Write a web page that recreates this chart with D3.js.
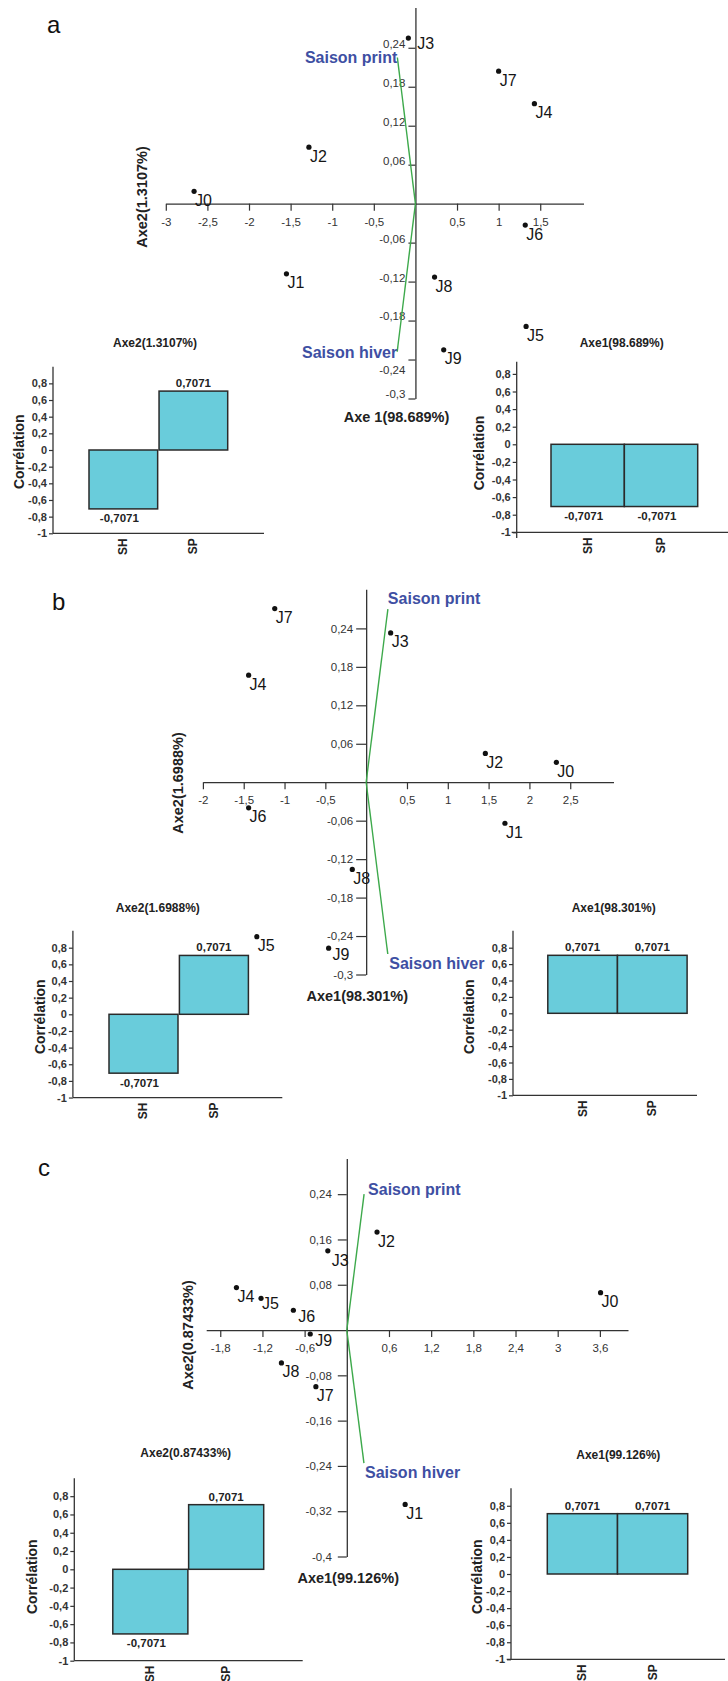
<!DOCTYPE html>
<html><head><meta charset="utf-8">
<script src="https://cdn.jsdelivr.net/npm/d3@7"></script>
<style>
html,body{margin:0;padding:0;background:#fff;}
svg{display:block;font-family:"Liberation Sans", Arial, sans-serif;}
</style></head><body>
<svg id="fig" width="728" height="1681"></svg>
<script>
// ---------------- DATA ----------------
const days = ["J0","J1","J2","J3","J4","J5","J6","J7","J8","J9"];

// panel a
const axe1A = [-2.66, -1.55, -1.28, -0.085, 1.43, 1.33, 1.32, 1.00, 0.23, 0.34];
const axe2A = [0.019, -0.108, 0.087, 0.255, 0.154, -0.189, -0.033, 0.204, -0.113, -0.225];
// panel b
const axe1B = [2.33, 1.70, 1.46, 0.30, -1.44, -1.34, -1.44, -1.12, -0.17, -0.46];
const axe2B = [0.031, -0.064, 0.045, 0.233, 0.167, -0.241, -0.040, 0.271, -0.136, -0.259];
// panel c
const axe1C = [3.61, 0.83, 0.43, -0.27, -1.57, -1.22, -0.76, -0.44, -0.93, -0.52];
const axe2C = [0.066, -0.308, 0.173, 0.140, 0.075, 0.056, 0.035, -0.100, -0.058, -0.007];

// season vectors
const vectorNames = ["Saison print", "Saison hiver"];
const vecAxe1A = [-0.217, -0.219];
const vecAxe2A = [0.225, -0.228];
const vecAxe1B = [0.266, 0.265];
const vecAxe2B = [0.270, -0.268];
const vecAxe1C = [0.246, 0.244];
const vecAxe2C = [0.240, -0.235];

// tick labels
const xTicksA = [-3, -2.5, -2, -1.5, -1, -0.5, 0.5, 1, 1.5];
const yTicksA = [-0.3, -0.24, -0.18, -0.12, -0.06, 0.06, 0.12, 0.18, 0.24];
const xTicksB = [-2, -1.5, -1, -0.5, 0.5, 1, 1.5, 2, 2.5];
const yTicksB = [-0.3, -0.24, -0.18, -0.12, -0.06, 0.06, 0.12, 0.18, 0.24];
const xTicksC = [-1.8, -1.2, -0.6, 0.6, 1.2, 1.8, 2.4, 3, 3.6];
const yTicksC = [-0.4, -0.32, -0.24, -0.16, -0.08, 0.08, 0.16, 0.24];
const corrTicks = [-1, -0.8, -0.6, -0.4, -0.2, 0, 0.2, 0.4, 0.6, 0.8];

// correlation bars
const seasons = ["SH", "SP"];
const corrAxe2A = [-0.7071, 0.7071];
const corrAxe1A = [-0.7071, -0.7071];
const corrAxe2B = [-0.7071, 0.7071];
const corrAxe1B = [0.7071, 0.7071];
const corrAxe2C = [-0.7071, 0.7071];
const corrAxe1C = [0.7071, 0.7071];

// ---------------- DRAWING ----------------
const svg = d3.select("#fig");
const loc = d3.formatLocale({decimal: ",", thousands: " ", grouping: [3], currency: ["", ""], minus: "-"});
const fmt = loc.format("~g");
const FONT = '"Liberation Sans", Arial, sans-serif';
const AXIS = "#333";
const GREEN = "#3da94b";
const BLUE = "#3e4fa3";
const BAR = "#69ccdb";

function styleAxis(g, size, weight, color) {
  g.attr("font-family", FONT);
  g.select(".domain").attr("stroke", AXIS).attr("stroke-width", 1.3);
  g.selectAll(".tick line").attr("stroke", AXIS).attr("stroke-width", 1.2);
  g.selectAll(".tick text").attr("font-size", size).attr("font-weight", weight).attr("fill", color);
}

function scatter(cfg) {
  const x = d3.scaleLinear().domain(cfg.xDomain).range(cfg.xRange);
  const y = d3.scaleLinear().domain(cfg.yDomain).range(cfg.yRange);
  const g = svg.append("g");

  g.append("text").attr("x", cfg.letter[0]).attr("y", cfg.letter[1])
    .attr("font-size", 24).attr("fill", "#111").text(cfg.letterText);

  const xa = g.append("g").attr("transform", `translate(0,${y(0)})`)
    .call(d3.axisBottom(x).tickValues(cfg.xTicks).tickFormat(fmt).tickSize(7).tickSizeOuter(0).tickPadding(7));
  styleAxis(xa, 11.5, "normal", "#333");

  const ya = g.append("g").attr("transform", `translate(${x(0)},0)`)
    .call(d3.axisLeft(y).tickValues(cfg.yTicks).tickFormat(fmt).tickSize(cfg.yTickSize).tickSizeOuter(0).tickPadding(cfg.yTickPad));
  styleAxis(ya, 11.5, "normal", "#333");
  ya.selectAll(".tick text").attr("dy", cfg.yLabelDy);

  const vec = vectorNames.map((n, i) => ({name: n, a1: cfg.vec1[i], a2: cfg.vec2[i], lab: cfg.vecLab[i]}));
  g.selectAll("line.vec").data(vec).join("line").attr("class", "vec")
    .attr("x1", x(0)).attr("y1", y(0))
    .attr("x2", d => x(d.a1)).attr("y2", d => y(d.a2))
    .attr("stroke", GREEN).attr("stroke-width", 1.4);
  g.selectAll("text.vec").data(vec).join("text").attr("class", "vec")
    .attr("x", d => x(d.a1) + d.lab.dx).attr("y", d => y(d.a2) + d.lab.dy)
    .attr("text-anchor", d => d.lab.anchor)
    .attr("font-size", 16).attr("font-weight", "bold").attr("fill", BLUE)
    .text(d => d.name);

  const pts = days.map((n, i) => ({name: n, a1: cfg.p1[i], a2: cfg.p2[i]}));
  g.selectAll("circle.pt").data(pts).join("circle").attr("class", "pt")
    .attr("cx", d => x(d.a1)).attr("cy", d => y(d.a2)).attr("r", 2.6).attr("fill", "#111");
  g.selectAll("text.pt").data(pts).join("text").attr("class", "pt")
    .attr("x", d => x(d.a1) + ((cfg.nudge[d.name] || {}).dx ?? 1))
    .attr("y", d => y(d.a2) + ((cfg.nudge[d.name] || {}).dy ?? 14.5))
    .attr("font-size", 16).attr("fill", "#151515").text(d => d.name);

  g.append("text").attr("transform", `translate(${cfg.yTitle[0]},${cfg.yTitle[1]}) rotate(-90)`)
    .attr("text-anchor", "middle").attr("dominant-baseline", "central")
    .attr("font-size", 14.5).attr("font-weight", "bold").attr("fill", "#222").text(cfg.yTitleText);
  g.append("text").attr("x", cfg.xTitle[0]).attr("y", cfg.xTitle[1])
    .attr("text-anchor", "middle").attr("dominant-baseline", "central")
    .attr("font-size", 14.5).attr("font-weight", "bold").attr("fill", "#222").text(cfg.xTitleText);
}

function bars(cfg) {
  const y = d3.scaleLinear().domain([-1, 1]).range([cfg.yZero + cfg.unit, cfg.yZero - cfg.unit]);
  const x = d3.scaleBand().domain(seasons).range(cfg.barRange).paddingInner(cfg.pad).paddingOuter(0);
  const g = svg.append("g");
  const dat = seasons.map((s, i) => ({s, v: cfg.values[i]}));

  g.selectAll("rect").data(dat).join("rect")
    .attr("x", d => x(d.s)).attr("width", x.bandwidth())
    .attr("y", d => Math.min(y(d.v), y(0))).attr("height", d => Math.abs(y(d.v) - y(0)))
    .attr("fill", BAR).attr("stroke", "#2a2a2a").attr("stroke-width", 1.5);

  const ya = g.append("g").attr("transform", `translate(${cfg.x0},0)`)
    .call(d3.axisLeft(y).tickValues(corrTicks).tickFormat(fmt).tickSize(4).tickPadding(2).tickSizeOuter(0));
  styleAxis(ya, 11, "bold", "#333");
  ya.select(".domain").remove();
  g.append("line").attr("x1", cfg.x0).attr("x2", cfg.x0)
    .attr("y1", cfg.axisTop).attr("y2", y(-1) + cfg.ext)
    .attr("stroke", AXIS).attr("stroke-width", 1.3);
  g.append("line").attr("x1", cfg.xStart).attr("x2", cfg.xEnd)
    .attr("y1", y(-1)).attr("y2", y(-1))
    .attr("stroke", AXIS).attr("stroke-width", 1.3);

  g.selectAll("text.cat").data(seasons).join("text").attr("class", "cat")
    .attr("transform", s => `translate(${x(s) + x.bandwidth() / 2},${y(-1) + 5}) rotate(-90)`)
    .attr("text-anchor", "end").attr("dominant-baseline", "central")
    .attr("font-size", 12).attr("font-weight", "bold").attr("fill", "#222").text(s => s);

  g.selectAll("text.val").data(dat).join("text").attr("class", "val")
    .attr("x", d => x(d.s) + x.bandwidth() / 2 + (d.v < 0 ? -4 : 0))
    .attr("y", d => d.v >= 0 ? y(d.v) - 4 : y(d.v) + 13.5)
    .attr("text-anchor", "middle")
    .attr("font-size", 11.5).attr("font-weight", "bold").attr("fill", "#222").text(d => fmt(d.v));

  g.append("text").attr("x", cfg.title[0]).attr("y", cfg.title[1])
    .attr("text-anchor", "middle").attr("dominant-baseline", "central")
    .attr("font-size", 12).attr("font-weight", "bold").attr("fill", "#222").text(cfg.titleText);
  g.append("text").attr("transform", `translate(${cfg.corr[0]},${cfg.corr[1]}) rotate(-90)`)
    .attr("text-anchor", "middle").attr("dominant-baseline", "central")
    .attr("font-size", 14).attr("font-weight", "bold").attr("fill", "#222").text("Corrélation");
}

// ----- panel a -----
scatter({
  letterText: "a", letter: [47, 33],
  xDomain: [-3, 2.02], xRange: [165.8, 583.5],
  yDomain: [-0.3, 0.302], yRange: [398.5, 7.5],
  xTicks: xTicksA, yTicks: yTicksA, yTickSize: 7, yTickPad: 3,
  yLabelDy: d => (d === -0.24 ? "1.2em" : "-0.05em"),
  p1: axe1A, p2: axe2A, vec1: vecAxe1A, vec2: vecAxe2A,
  vecLab: [{anchor: "end", dx: 0, dy: 5.5}, {anchor: "end", dx: 0, dy: 6}],
  nudge: {J3: {dx: 9, dy: 11}},
  yTitleText: "Axe2(1.3107%)", yTitle: [141.6, 197],
  xTitleText: "Axe 1(98.689%)", xTitle: [396.5, 416.7]
});
bars({values: corrAxe2A, titleText: "Axe2(1.3107%)", title: [155, 343], corr: [18.5, 451.7],
  x0: 53, yZero: 450, unit: 83.3, axisTop: 366.7, ext: 0, xStart: 53, xEnd: 264,
  barRange: [89, 227.7], pad: 0.02});
bars({values: corrAxe1A, titleText: "Axe1(98.689%)", title: [621.7, 343], corr: [479.3, 453],
  x0: 516.7, yZero: 444.3, unit: 88, axisTop: 361.7, ext: 5.7, xStart: 511.7, xEnd: 728,
  barRange: [551, 697.7], pad: 0});

// ----- panel b -----
scatter({
  letterText: "b", letter: [52, 610],
  xDomain: [-2, 3.03], xRange: [202.9, 613.5],
  yDomain: [-0.3, 0.301], yRange: [974.5, 589.3],
  xTicks: xTicksB, yTicks: yTicksB, yTickSize: 10, yTickPad: 3, yLabelDy: "0.32em",
  p1: axe1B, p2: axe2B, vec1: vecAxe1B, vec2: vecAxe2B,
  vecLab: [{anchor: "start", dx: 0, dy: -5}, {anchor: "start", dx: 1.5, dy: 15}],
  nudge: {J9: {dx: 4, dy: 12}},
  yTitleText: "Axe2(1.6988%)", yTitle: [178.4, 783],
  xTitleText: "Axe1(98.301%)", xTitle: [357.3, 995.7]
});
bars({values: corrAxe2B, titleText: "Axe2(1.6988%)", title: [157.8, 908.3], corr: [39.5, 1016.7],
  x0: 72.9, yZero: 1014.3, unit: 83.25, axisTop: 930.7, ext: 0, xStart: 72.9, xEnd: 282.3,
  barRange: [109, 248.4], pad: 0.02});
bars({values: corrAxe1B, titleText: "Axe1(98.301%)", title: [613.7, 908.3], corr: [469, 1016.7],
  x0: 513, yZero: 1013.3, unit: 82, axisTop: 930.7, ext: 0, xStart: 513, xEnd: 697,
  barRange: [547.8, 687.1], pad: 0});

// ----- panel c -----
scatter({
  letterText: "c", letter: [38, 1176],
  xDomain: [-2, 4], xRange: [206.2, 628],
  yDomain: [-0.4, 0.303], yRange: [1556.5, 1158.5],
  xTicks: xTicksC, yTicks: yTicksC, yTickSize: 9, yTickPad: 6, yLabelDy: "0.32em",
  p1: axe1C, p2: axe2C, vec1: vecAxe1C, vec2: vecAxe2C,
  vecLab: [{anchor: "start", dx: 4, dy: 1}, {anchor: "start", dx: 1, dy: 15}],
  nudge: {J3: {dx: 4, dy: 15}, J6: {dx: 5, dy: 12}, J9: {dx: 5, dy: 12}, J5: {dx: 1, dy: 11}},
  yTitleText: "Axe2(0.87433%)", yTitle: [188.1, 1335],
  xTitleText: "Axe1(99.126%)", xTitle: [348.2, 1578.3]
});
bars({values: corrAxe2C, titleText: "Axe2(0.87433%)", title: [185.7, 1453.3], corr: [31.6, 1576.7],
  x0: 74.3, yZero: 1569.3, unit: 91.4, axisTop: 1478.3, ext: 0, xStart: 74.3, xEnd: 302.7,
  barRange: [112.8, 263.7], pad: 0.01});
bars({values: corrAxe1C, titleText: "Axe1(99.126%)", title: [618.3, 1455], corr: [477.3, 1576.7],
  x0: 511, yZero: 1574, unit: 85.3, axisTop: 1488.3, ext: 0, xStart: 506.7, xEnd: 725,
  barRange: [547.3, 687.7], pad: 0});
</script>
</body></html>
